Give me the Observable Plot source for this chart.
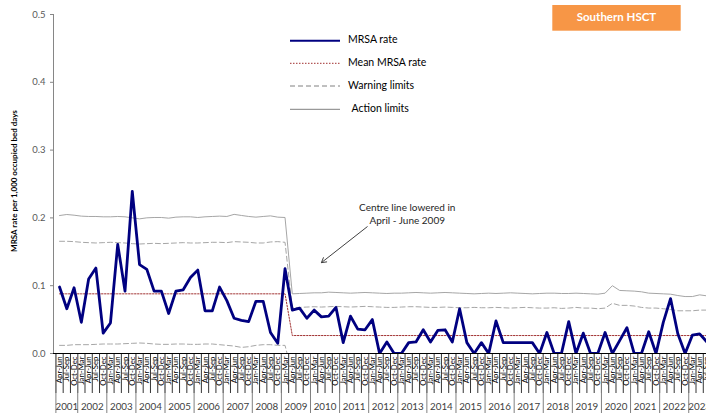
<!DOCTYPE html>
<html>
<head>
<meta charset="utf-8">
<script src="https://cdn.jsdelivr.net/npm/d3@7"></script>
<script src="https://cdn.jsdelivr.net/npm/@observablehq/plot@0.6"></script>
<style>
  html, body { margin: 0; padding: 0; background: #fff; }
  #chart { width: 706px; height: 416px; overflow: hidden; }
</style>
</head>
<body>
<div id="chart"></div>
<script>
// ---- Data ----
const quarterNames = ["Apr-Jun", "Jul-Sep", "Oct-Dec", "Jan-Mar"];
const years = [2001,2002,2003,2004,2005,2006,2007,2008,2009,2010,2011,2012,2013,2014,2015,2016,2017,2018,2019,2020,2021,2022,2023];
const yTicks = [0, 0.1, 0.2, 0.3, 0.4, 0.5];

// MRSA rate per 1,000 occupied bed days, quarterly from Apr-Jun 2001
const mrsaRate = [
  0.098,0.066,0.097,0.046,0.110,0.126,0.030,0.045,0.161,0.092,
  0.239,0.131,0.124,0.092,0.092,0.059,0.092,0.094,0.112,0.123,
  0.063,0.063,0.098,0.078,0.052,0.049,0.047,0.077,0.077,0.031,
  0.015,0.125,0.064,0.067,0.052,0.064,0.054,0.055,0.068,0.016,
  0.055,0.036,0.035,0.050,0.000,0.017,0.000,0.000,0.016,0.017,
  0.035,0.017,0.034,0.035,0.017,0.066,0.016,0.000,0.016,0.000,
  0.048,0.016,0.016,0.016,0.016,0.016,0.000,0.031,0.000,0.000,
  0.047,0.000,0.030,0.000,0.000,0.031,0.000,0.019,0.038,0.000,
  0.000,0.032,0.000,0.046,0.081,0.029,0.000,0.027,0.029,0.017
];

// Upper action limit
const actionUpper = [
  0.2035,0.2050,0.2040,0.2026,0.2021,0.2021,0.2016,0.2016,0.2021,0.2016,
  0.2001,0.1986,0.2001,0.2006,0.2006,0.1996,0.2011,0.2016,0.2016,0.2006,
  0.2016,0.2021,0.2026,0.2021,0.2052,0.2036,0.2021,0.2011,0.2021,0.2030,
  0.2011,0.2006,
  0.0880,0.0885,0.0890,0.0895,0.0895,0.0905,0.0900,0.0895,0.0890,0.0895,
  0.0900,0.0895,0.0890,0.0885,0.0890,0.0890,0.0895,0.0900,0.0895,0.0890,
  0.0895,0.0900,0.0895,0.0890,0.0885,0.0880,0.0885,0.0890,0.0885,0.0890,
  0.0895,0.0890,0.0885,0.0880,0.0885,0.0890,0.0890,0.0885,0.0885,0.0890,
  0.0885,0.0880,0.0875,0.0890,0.1000,0.0930,0.0925,0.0920,0.0910,0.0890,
  0.0885,0.0880,0.0875,0.0855,0.0840,0.0840,0.0865,0.0850
];

// Upper warning limit
const warnUpper = [
  0.1655,0.1655,0.1650,0.1640,0.1635,0.1630,0.1635,0.1640,0.1635,0.1630,
  0.1620,0.1615,0.1620,0.1625,0.1620,0.1625,0.1630,0.1635,0.1630,0.1630,
  0.1635,0.1640,0.1640,0.1635,0.1650,0.1645,0.1640,0.1630,0.1630,0.1645,
  0.1650,0.1640,
  0.0670,0.0680,0.0685,0.0690,0.0685,0.0690,0.0695,0.0690,0.0685,0.0690,
  0.0695,0.0690,0.0685,0.0680,0.0680,0.0685,0.0690,0.0690,0.0685,0.0680,
  0.0680,0.0685,0.0680,0.0675,0.0675,0.0680,0.0675,0.0675,0.0680,0.0675,
  0.0670,0.0675,0.0680,0.0675,0.0670,0.0670,0.0675,0.0665,0.0670,0.0680,
  0.0670,0.0670,0.0660,0.0670,0.0740,0.0710,0.0710,0.0700,0.0680,0.0670,
  0.0670,0.0660,0.0650,0.0630,0.0630,0.0630,0.0640,0.0640
];

// Lower warning limit (below zero after the centre line was lowered)
const warnLower = [
  0.012,0.012,0.013,0.013,0.013,0.0135,0.014,0.014,0.014,0.0145,
  0.015,0.0155,0.015,0.014,0.0135,0.0135,0.014,0.014,0.0135,0.0135,
  0.014,0.014,0.013,0.012,0.011,0.009,0.010,0.012,0.013,0.013,
  0.012,0.012,-0.030
];

// Mean (centre line) per period
const meanPeriods = [
  {first: 0, last: 31, mean: 0.088},
  {first: 32, last: 89, mean: 0.0265}
];

const annotationLines = [
  {text: "Centre line lowered in", q: 48.3, v: 0.215},
  {text: "April - June 2009", q: 48.3, v: 0.195}
];
const annotationArrow = [{q1: 42.8, v1: 0.187, q2: 36.5, v2: 0.134}];

// ---- Build table ----
const rows = mrsaRate.map((v, i) => {
  const period = meanPeriods.find(p => i >= p.first && i <= p.last);
  return {
    i,
    pos: i + 0.5,
    quarter: quarterNames[i % 4],
    year: years[Math.floor((i + 1) / 4)],
    rate: v,
    action: actionUpper[i],
    warn: warnUpper[i],
    warnLow: warnLower[i] ?? NaN,
    mean: period.mean
  };
});
const nQ = rows.length;

// year groups
const yearGroups = years.map(y => {
  const idx = rows.filter(r => r.year === y).map(r => r.i);
  return {year: y, start: d3.min(idx), end: d3.max(idx) + 1};
});
const quarterBounds = d3.range(nQ + 1);

const FONT = "Lato, 'Liberation Sans', Arial, sans-serif";

const plot = Plot.plot({
  width: 706,
  height: 416,
  marginLeft: 53,
  marginRight: 0,
  marginTop: 14,
  marginBottom: 63,
  style: {fontFamily: FONT, background: "#fff", overflow: "hidden"},
  x: {type: "linear", domain: [0, nQ], range: [55.4, 55.4 + nQ * 7.274], axis: null},
  y: {domain: [0, 0.5], axis: null},
  marks: [
    Plot.axisY({ticks: yTicks, tickFormat: d3.format(".1f"), tickSize: 3, tickPadding: 5,
      fontSize: 9.5, color: "#595959", stroke: "#868686", label: null}),
    Plot.frame({anchor: "left", stroke: "#868686"}),
    // quarter separators and labels
    Plot.tickX(quarterBounds, {x: d => d, y1: 0, y2: 0, stroke: "#000", strokeWidth: 0.8,
      render: (index, scales, values, dims, ctx, next) => {
        const g = next(index, scales, values, dims, ctx);
        d3.select(g).selectAll("line").attr("y1", scales.y(0)).attr("y2", scales.y(0) + 40);
        return g;
      }}),
    Plot.text(rows, {x: "pos", y: () => 0, text: "quarter", rotate: -90, textAnchor: "end",
      lineAnchor: "middle", dy: 3, fontSize: 7.8, fill: "#000"}),
    // year separators and labels
    Plot.tickX(yearGroups, {x: "start", y1: 0, y2: 0, stroke: "#808080", strokeWidth: 1,
      render: (index, scales, values, dims, ctx, next) => {
        const g = next(index, scales, values, dims, ctx);
        d3.select(g).selectAll("line").attr("y1", scales.y(0)).attr("y2", scales.y(0) + 60);
        return g;
      }}),
    Plot.text(yearGroups, {x: d => (d.start + d.end) / 2, y: () => 0, text: d => String(d.year),
      dy: 53, fontSize: 9.8, fill: "#404040"}),
    Plot.ruleY([0], {stroke: "#000", strokeWidth: 1}),
    // control limits
    Plot.line(rows, {x: "pos", y: "action", stroke: "#a6a6a6", strokeWidth: 1, clip: true}),
    Plot.line(rows, {x: "pos", y: "warn", stroke: "#a6a6a6", strokeWidth: 1, strokeDasharray: "5,3", clip: true}),
    Plot.line(rows, {x: "pos", y: "warnLow", stroke: "#a6a6a6", strokeWidth: 1, strokeDasharray: "5,3", clip: true}),
    Plot.line(rows, {x: "pos", y: "mean", stroke: "#a03030", strokeWidth: 1, strokeDasharray: "1.5,1.5", clip: true}),
    // rate
    Plot.line(rows, {x: "pos", y: "rate", stroke: "#000080", strokeWidth: 2.8, clip: true}),
    // annotation
    Plot.arrow(annotationArrow, {x1: "q1", y1: "v1", x2: "q2", y2: "v2", stroke: "#404040",
      strokeWidth: 1, headLength: 8}),
    Plot.text(annotationLines, {x: "q", y: "v", text: "text", fontSize: 10, fill: "#262626"})
  ]
});

const svg = d3.select(plot);

// y axis title
svg.append("text")
  .attr("transform", "translate(15,181) rotate(-90)")
  .attr("text-anchor", "middle")
  .attr("dominant-baseline", "middle")
  .attr("font-family", FONT)
  .attr("font-size", 8)
  .attr("font-weight", "bold")
  .attr("fill", "#000")
  .text("MRSA rate per 1,000 occupied bed days");

// legend
const legendItems = [
  {label: "MRSA rate", stroke: "#000080", width: 2, dash: null, y: 40.7, tx: 348},
  {label: "Mean MRSA rate", stroke: "#a03030", width: 1, dash: "1.5,1.5", y: 63.3, tx: 348},
  {label: "Warning limits", stroke: "#808080", width: 1, dash: "5,3", y: 86, tx: 348},
  {label: "Action limits", stroke: "#808080", width: 1, dash: null, y: 109.3, tx: 351.5}
];
const lg = svg.append("g").attr("font-family", FONT).attr("font-size", 10.5);
legendItems.forEach(it => {
  lg.append("line").attr("x1", 290).attr("x2", 340).attr("y1", it.y).attr("y2", it.y)
    .attr("stroke", it.stroke).attr("stroke-width", it.width)
    .attr("stroke-dasharray", it.dash);
  lg.append("text").attr("x", it.tx).attr("y", it.y).attr("dominant-baseline", "middle")
    .attr("text-anchor", "start")
    .attr("fill", "#000").text(it.label);
});

// title box
svg.append("rect").attr("x", 552.3).attr("y", 5).attr("width", 128.4).attr("height", 25.7)
  .attr("fill", "#f79646");
svg.append("text").attr("x", 616.5).attr("y", 18).attr("text-anchor", "middle")
  .attr("dominant-baseline", "middle").attr("font-family", FONT).attr("font-size", 11.5)
  .attr("font-weight", "bold").attr("fill", "#fff").text("Southern HSCT");

document.getElementById("chart").appendChild(plot);
</script>
</body>
</html>
